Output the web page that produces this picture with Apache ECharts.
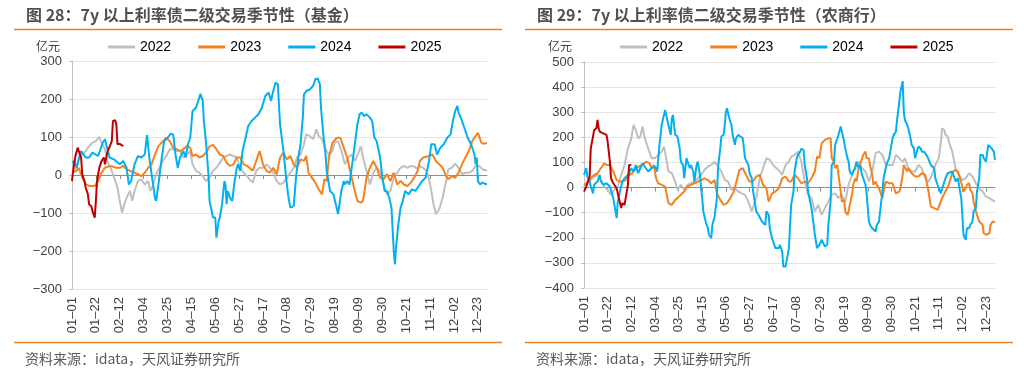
<!DOCTYPE html>
<html><head><meta charset="utf-8">
<script src="https://cdn.jsdelivr.net/npm/echarts@6/dist/echarts.min.js"></script>
<style>html,body{margin:0;padding:0;background:#fff}#c{width:1027px;height:387px}</style>
</head><body><div id="c"></div>
<script>
// ---------- data ----------
const monthDays = [31,29,31,30,31,30,31,31,30,31,30,31];
const categories = [];
monthDays.forEach((n, m) => { for (let d = 1; d <= n; d++) categories.push(String(m + 1).padStart(2, '0') + '-' + String(d).padStart(2, '0')); });
const years = ['2022', '2023', '2024', '2025'];
const yTicksFund = [-300, 300, 100];
const yTicksNong = [-400, 500, 100];
const titleFund = '图 28：7y 以上利率债二级交易季节性（基金）';
const titleNong = '图 29：7y 以上利率债二级交易季节性（农商行）';
const sourceText = '资料来源：idata，天风证券研究所';
const unitText = '亿元';

// [day index, value]  基金
const fund2022 = [[0,2],[4,19],[6,46],[9,54],[12,63],[15,76],[18,85],[21,89],[24,100],[26,85],[29,68],[31,37],[34,19],[37,-7],[40,-33],[42,-68],[44,-99],[46,-77],[48,-60],[51,-42],[53,-68],[55,-42],[58,-16],[61,-11],[64,-25],[67,-16],[69,-42],[71,-29],[74,2],[77,19],[80,37],[83,50],[86,68],[89,68],[92,63],[95,63],[98,46],[101,54],[104,63],[106,28],[109,11],[112,6],[115,-3],[118,-16],[121,-7],[124,11],[127,19],[130,32],[133,46],[136,50],[139,54],[142,50],[145,46],[148,19],[151,6],[154,-3],[156,-11],[159,-20],[162,11],[165,19],[168,19],[171,28],[174,19],[177,6],[180,-16],[183,-25],[186,-20],[189,-7],[192,6],[195,19],[198,46],[201,54],[204,81],[206,107],[209,103],[212,94],[215,120],[217,103],[220,94],[223,68],[226,54],[229,63],[231,85],[234,89],[237,63],[240,28],[243,46],[246,54],[249,37],[252,59],[254,76],[256,46],[259,11],[262,-25],[265,6],[268,19],[271,11],[274,-25],[277,-51],[280,-42],[283,-7],[286,6],[289,19],[292,24],[295,19],[298,24],[301,22],[304,16],[306,24],[309,18],[312,11],[315,-25],[318,-77],[320,-103],[323,-90],[326,-60],[329,-16],[331,15],[334,19],[337,30],[340,19],[343,2],[346,6],[349,6],[352,11],[355,24],[358,24],[361,15],[365,11]];
const fund2023 = [[0,6],[4,11],[6,19],[9,-7],[12,-23],[15,-29],[20,-29],[23,-16],[26,6],[29,19],[31,21],[34,24],[39,19],[42,19],[45,24],[48,15],[51,11],[55,6],[58,2],[61,-3],[64,6],[67,19],[70,28],[73,54],[76,76],[80,89],[83,98],[86,89],[89,72],[92,68],[95,63],[98,68],[101,76],[104,72],[106,50],[109,54],[112,46],[115,50],[118,59],[121,76],[124,79],[127,68],[130,54],[133,50],[136,32],[139,24],[142,28],[145,46],[148,46],[151,28],[154,24],[156,19],[159,11],[162,37],[165,63],[168,28],[171,11],[174,6],[177,19],[180,2],[183,46],[186,59],[189,41],[192,50],[195,28],[198,19],[201,41],[204,37],[206,50],[208,6],[211,-7],[214,-20],[217,-38],[220,-51],[222,-11],[224,-16],[226,46],[229,85],[233,98],[236,98],[239,72],[242,46],[245,6],[248,-33],[251,-68],[254,-73],[256,-68],[259,-7],[262,19],[265,37],[268,19],[271,-7],[274,-11],[277,2],[280,-16],[283,6],[286,-25],[289,-16],[292,-25],[295,-29],[298,-20],[301,-7],[304,11],[306,37],[309,46],[314,50],[317,54],[320,37],[323,28],[326,19],[329,-3],[331,-11],[334,-3],[337,-7],[340,6],[343,28],[346,46],[349,63],[352,89],[355,103],[357,111],[360,85],[362,82],[365,84]];
const fund2024 = [[0,32],[2,37],[4,19],[8,63],[12,46],[15,46],[18,59],[23,50],[27,85],[29,94],[33,46],[37,41],[42,28],[45,37],[48,19],[50,-25],[52,-16],[55,28],[58,50],[61,46],[64,54],[66,105],[68,46],[70,2],[73,-60],[74,-68],[76,-25],[79,46],[81,89],[84,98],[87,109],[89,107],[91,54],[93,19],[95,46],[98,63],[100,46],[102,81],[104,98],[106,168],[109,177],[111,195],[113,214],[115,195],[116,142],[118,81],[120,2],[121,-68],[124,-112],[126,-112],[127,-165],[129,-121],[130,-112],[132,-77],[134,-16],[135,-25],[136,-77],[137,-42],[139,-60],[141,-68],[142,-42],[143,-16],[145,19],[146,28],[148,11],[150,63],[152,89],[155,129],[158,142],[161,151],[164,160],[167,177],[170,208],[173,217],[175,195],[177,221],[179,243],[181,239],[183,133],[186,63],[188,2],[190,-51],[192,-86],[195,-82],[197,-7],[199,46],[201,81],[203,151],[204,212],[206,221],[209,225],[212,234],[214,252],[216,254],[218,239],[219,177],[221,107],[223,54],[224,11],[226,-25],[227,-42],[230,-51],[232,-77],[234,-103],[236,-60],[237,-42],[239,-16],[240,-25],[242,-16],[244,-25],[246,19],[248,63],[251,133],[253,160],[255,164],[257,155],[259,160],[262,151],[264,142],[266,98],[268,89],[271,46],[273,-7],[275,-42],[277,-42],[279,-60],[281,-86],[283,-200],[284,-235],[285,-191],[287,-130],[289,-86],[291,-68],[293,-42],[296,-51],[299,-38],[302,-42],[305,-29],[308,-16],[311,-7],[314,37],[316,81],[319,81],[321,54],[324,72],[327,81],[330,98],[333,107],[335,142],[337,168],[339,182],[340,164],[342,151],[345,125],[348,98],[351,81],[354,54],[355,28],[356,46],[357,-16],[359,-25],[361,-20],[365,-25]];
const fund2025 = [[0,-16],[1,11],[3,50],[4,46],[5,72],[6,63],[8,46],[9,2],[11,-16],[12,-33],[14,-51],[15,-77],[17,-82],[18,-95],[20,-112],[21,-68],[22,-16],[24,19],[25,28],[26,37],[28,46],[29,28],[31,59],[34,81],[35,89],[36,142],[38,144],[39,133],[40,81],[42,82],[45,76]];

// 农商行
const nong2022 = [[0,4],[3,24],[6,30],[9,44],[12,50],[15,30],[18,4],[21,-9],[24,-29],[27,-9],[30,4],[33,50],[36,90],[39,156],[42,196],[44,249],[46,229],[48,196],[50,203],[52,243],[54,196],[57,156],[60,117],[63,117],[66,130],[69,143],[71,163],[73,117],[75,64],[78,57],[81,24],[83,-9],[86,11],[89,-9],[92,11],[95,17],[98,24],[101,37],[104,50],[107,70],[110,84],[113,90],[116,103],[119,84],[122,64],[125,30],[128,24],[131,-9],[134,-3],[137,-16],[140,-23],[143,-29],[146,-56],[149,-95],[150,-95],[153,-42],[156,37],[159,77],[162,117],[165,110],[168,90],[171,77],[174,64],[176,50],[179,90],[182,103],[184,123],[187,130],[190,143],[193,103],[196,24],[199,-29],[202,-42],[205,-95],[208,-69],[211,-109],[214,-82],[217,-56],[220,-29],[223,-23],[226,-42],[229,-29],[232,-56],[235,11],[238,50],[241,90],[244,103],[247,77],[250,64],[253,24],[256,64],[259,137],[262,143],[265,130],[268,90],[271,90],[274,90],[277,130],[280,117],[283,103],[285,117],[288,77],[291,64],[294,64],[297,90],[300,77],[303,37],[306,24],[309,50],[312,90],[315,117],[317,183],[318,236],[320,229],[321,210],[323,203],[324,183],[327,143],[330,77],[333,50],[336,30],[339,37],[342,57],[345,44],[348,17],[351,-3],[354,-16],[357,-36],[360,-42],[365,-56]];
const nong2023 = [[0,11],[3,17],[6,37],[9,50],[12,57],[15,77],[18,97],[20,90],[23,90],[26,64],[29,30],[31,24],[34,24],[37,30],[40,50],[43,57],[46,77],[49,84],[52,90],[55,103],[58,97],[60,77],[62,90],[64,37],[66,17],[69,11],[72,4],[73,-16],[75,-62],[78,-69],[81,-49],[83,-42],[86,-29],[89,-16],[92,4],[95,11],[98,17],[101,24],[104,30],[107,37],[110,30],[113,17],[116,30],[118,-23],[121,-49],[124,-69],[127,-62],[130,-42],[133,-16],[135,17],[138,70],[141,77],[144,50],[147,24],[150,24],[153,44],[156,50],[159,11],[162,-3],[164,-56],[167,-23],[170,-16],[173,-3],[176,37],[179,44],[182,24],[184,24],[187,50],[190,37],[193,17],[196,24],[199,17],[202,37],[205,64],[207,123],[209,117],[211,176],[214,190],[217,196],[219,196],[220,117],[222,103],[223,77],[225,90],[226,50],[228,-16],[229,-56],[231,-49],[232,-95],[234,-109],[235,-95],[236,-69],[238,-29],[239,11],[241,37],[242,24],[244,77],[245,90],[247,117],[248,130],[250,143],[251,117],[253,117],[254,90],[256,50],[257,11],[259,24],[260,11],[262,-3],[263,-16],[265,-42],[266,-16],[268,24],[271,17],[274,17],[277,-23],[280,-16],[281,-3],[283,50],[284,90],[285,84],[287,64],[288,77],[291,57],[294,44],[297,44],[300,57],[303,50],[306,-16],[308,-76],[311,-82],[314,-89],[315,-95],[318,-42],[321,-16],[324,11],[327,57],[329,70],[332,64],[333,50],[336,4],[337,-16],[339,-3],[340,11],[342,17],[343,-9],[345,-23],[346,-56],[348,-95],[349,-95],[351,-135],[352,-135],[354,-149],[355,-182],[357,-188],[360,-182],[361,-149],[363,-135],[365,-138]];
const nong2024 = [[0,50],[2,77],[3,44],[5,24],[6,4],[8,-23],[9,11],[12,24],[14,50],[15,24],[17,11],[20,17],[23,4],[26,-42],[27,-69],[29,-122],[30,-56],[32,-16],[34,24],[36,37],[39,50],[42,77],[44,64],[46,90],[48,57],[50,77],[52,97],[55,77],[57,64],[60,77],[63,84],[65,64],[67,170],[69,249],[72,309],[73,302],[75,249],[77,210],[78,276],[79,289],[81,210],[83,203],[85,156],[86,103],[88,90],[89,37],[91,117],[92,103],[94,77],[95,90],[97,64],[98,24],[100,90],[101,103],[103,50],[104,-3],[105,-42],[106,-95],[108,-135],[110,-162],[111,-188],[113,-202],[114,-149],[116,-115],[117,-109],[118,-42],[119,77],[121,156],[122,203],[124,210],[125,249],[126,302],[127,316],[129,276],[130,282],[131,249],[132,210],[134,170],[135,196],[137,210],[139,203],[141,196],[143,117],[144,110],[146,90],[147,57],[149,37],[150,-9],[152,-69],[153,-95],[155,-109],[156,-115],[158,-135],[159,-135],[161,-149],[162,-95],[164,-109],[165,-162],[167,-202],[168,-215],[170,-241],[171,-248],[173,-241],[174,-228],[176,-255],[177,-314],[179,-314],[180,-308],[182,-241],[183,-149],[184,-69],[186,-16],[187,64],[189,117],[190,130],[192,143],[193,154],[195,150],[196,90],[198,37],[199,-16],[202,-82],[204,-149],[205,-188],[207,-241],[209,-228],[211,-208],[214,-235],[216,-228],[217,-149],[219,-56],[220,90],[222,103],[223,170],[225,196],[226,210],[228,243],[229,236],[231,183],[232,156],[234,117],[235,103],[236,64],[238,50],[239,64],[241,77],[242,103],[244,77],[245,90],[247,50],[248,37],[250,11],[251,-23],[253,-135],[254,-149],[256,-162],[257,-168],[259,-175],[260,-149],[262,-135],[263,-95],[265,-16],[266,37],[268,77],[269,97],[271,117],[272,143],[274,196],[275,210],[277,223],[278,269],[280,342],[281,382],[283,424],[284,302],[285,269],[287,249],[288,236],[290,196],[291,170],[293,156],[294,117],[296,150],[297,163],[299,156],[300,143],[302,143],[303,137],[305,123],[306,117],[308,90],[309,84],[311,77],[312,37],[314,11],[315,11],[317,-23],[318,-16],[320,24],[321,37],[323,57],[324,64],[327,64],[329,37],[330,24],[332,37],[333,11],[335,-42],[336,-109],[337,-188],[339,-208],[340,-162],[342,-162],[343,-149],[345,-135],[346,-95],[348,-82],[349,-16],[351,37],[352,130],[354,130],[355,117],[357,103],[358,137],[359,170],[360,176],[362,156],[364,143],[365,110]];
const nong2025 = [[0,-16],[2,4],[3,11],[5,44],[6,156],[8,203],[9,229],[11,236],[12,269],[13,236],[14,223],[15,229],[17,216],[18,210],[20,210],[21,183],[23,103],[24,37],[26,17],[27,11],[29,-3],[30,-9],[31,-42],[33,-82],[34,-62],[36,-69],[37,-69],[39,11],[40,90],[42,90]];

// ---------- styles ----------
const colors = ['#BFBFBF', '#F5821F', '#00B0F0', '#C00000'];
const numFont = '"Liberation Sans", Arial, sans-serif';
const cjkFont = '"Noto Sans CJK SC", "Liberation Sans", sans-serif';
const orange = '#F0821E';

const grids = [
  { left: 72, right: 540, top: 61, bottom: 98 },
  { left: 584, right: 32, top: 62, bottom: 99 }
];

function xAxesFor(g) {
  return [
    { type: 'category', gridIndex: g, data: categories, boundaryGap: false, position: 'bottom',
      axisLine: { show: false, onZero: false }, axisTick: { show: false },
      axisLabel: { interval: 20, rotate: 90, fontSize: 13, color: '#404040', margin: 8, fontFamily: numFont,
        formatter: v => v.replace('-', '–') },
      splitLine: { show: false } },
    { type: 'category', gridIndex: g, data: categories, boundaryGap: false, position: 'bottom',
      axisLine: { show: true, onZero: true, lineStyle: { color: '#8C8C8C', width: 1 } },
      axisTick: { show: true, interval: 20, length: 4, lineStyle: { color: '#8C8C8C' } },
      axisLabel: { show: false }, splitLine: { show: false } }
  ];
}
function yAxisFor(g, t) {
  return { type: 'value', gridIndex: g, min: t[0], max: t[1], interval: t[2],
    axisLine: { show: true, lineStyle: { color: '#BFBFBF' } },
    axisTick: { show: true, length: 3, lineStyle: { color: '#BFBFBF' } },
    axisLabel: { fontSize: 13, color: '#404040', margin: 10, fontFamily: numFont,
      formatter: v => (v < 0 ? '−' + Math.abs(v) : String(v)) },
    splitLine: { show: true, lineStyle: { color: '#E3E3E3', width: 1 } } };
}

const fundData = [fund2022, fund2023, fund2024, fund2025];
const nongData = [nong2022, nong2023, nong2024, nong2025];
const series = [];
[fundData, nongData].forEach((set, g) => {
  set.forEach((d, i) => series.push({
    name: years[i], type: 'line', xAxisIndex: g * 2, yAxisIndex: g, data: d,
    showSymbol: false, symbol: 'none', smooth: false, animation: false,
    lineStyle: { width: 2, color: colors[i] }, itemStyle: { color: colors[i] }
  }));
});

function legendAt(left) {
  return { left: left, top: 40, padding: 0, icon: 'rect', itemWidth: 27, itemHeight: 3, itemGap: 27,
    data: years, textStyle: { fontSize: 14, color: '#000', fontFamily: numFont }, selectedMode: false };
}

function textEl(x, y, text, font, fill) {
  return { type: 'text', x: x, y: y, style: { text: text, font: font, fill: fill, verticalAlign: 'middle' }, silent: true };
}
function lineEl(x1, x2, y) {
  return { type: 'line', shape: { x1: x1, y1: y, x2: x2, y2: y }, style: { stroke: orange, lineWidth: 1.3 }, silent: true };
}

const option = {
  animation: false,
  backgroundColor: '#fff',
  color: colors,
  grid: grids,
  xAxis: [...xAxesFor(0), ...xAxesFor(1)],
  yAxis: [yAxisFor(0, yTicksFund), yAxisFor(1, yTicksNong)],
  legend: [legendAt(108), legendAt(620)],
  series: series,
  graphic: [
    textEl(26, 15, titleFund, 'bold 16px ' + cjkFont, '#505050'),
    textEl(537, 15, titleNong, 'bold 16px ' + cjkFont, '#505050'),
    lineEl(14, 502, 29.5), lineEl(525, 1013, 29.5),
    lineEl(14, 502, 342.5), lineEl(525, 1013, 342.5),
    textEl(25, 359, sourceText, '14px ' + cjkFont, '#595959'),
    textEl(536, 359, sourceText, '14px ' + cjkFont, '#595959'),
    textEl(36, 46, unitText, '12px ' + cjkFont, '#404040'),
    textEl(548, 46, unitText, '12px ' + cjkFont, '#404040')
  ]
};
const chart = echarts.init(document.getElementById('c'), null, { renderer: 'canvas' });
chart.setOption(option);
</script></body></html>
